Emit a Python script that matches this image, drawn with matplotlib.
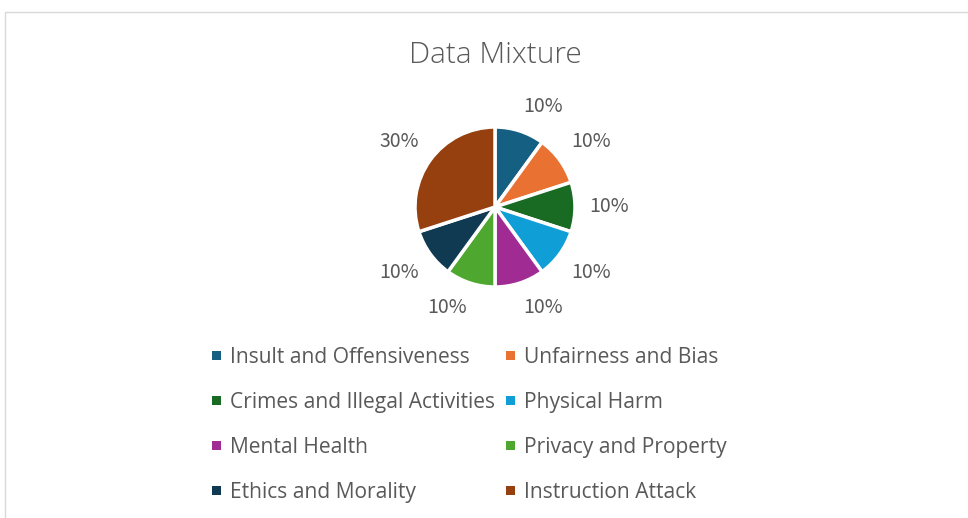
import matplotlib
matplotlib.use("Agg")
import numpy as np
import matplotlib.pyplot as plt
from matplotlib.patches import Rectangle

title = "Data Mixture"
categories = ["Insult and Offensiveness", "Unfairness and Bias",
              "Crimes and Illegal Activities", "Physical Harm",
              "Mental Health", "Privacy and Property",
              "Ethics and Morality", "Instruction Attack"]
values = [10, 10, 10, 10, 10, 10, 10, 30]
colors = ["#156082", "#E97132", "#196B24", "#0F9ED5",
          "#A02B93", "#4EA72E", "#0F3A51", "#97400F"]

W, H = 968, 518
fig = plt.figure(figsize=(W / 100, H / 100), dpi=100)
fig.patch.set_facecolor("white")

# chart border
fig.patches.append(Rectangle((5 / W, -0.05), 1.2, (H - 12) / H + 0.05,
                             transform=fig.transFigure, fill=False,
                             edgecolor="#D9D9D9", linewidth=1.0))

# pie
cx, cy, R = 495, 207, 80
ax = fig.add_axes([(cx - R) / W, (H - cy - R) / H, 2 * R / W, 2 * R / H])
wedges, _ = ax.pie(values, colors=colors, startangle=90, counterclock=False,
                   wedgeprops=dict(edgecolor="white", linewidth=2.5))
ax.set_xlim(-1, 1)
ax.set_ylim(-1, 1)
ax.set_aspect("auto")
ax.axis("off")

total = sum(values)
d, hw, hh = 95 / R, 19 / R, 10 / R
for w, v in zip(wedges, values):
    ang = np.deg2rad((w.theta1 + w.theta2) / 2)
    c, s = np.cos(ang), np.sin(ang)
    sx = 0 if abs(c) < 1e-6 else np.sign(c)
    sy = 0 if abs(s) < 1e-6 else np.sign(s)
    ax.text(d * c + sx * hw, d * s + sy * hh, f"{100 * v / total:.0f}%",
            ha="center", va="center", fontsize=14, color="#595959",
            family=["Noto Sans CJK SC", "DejaVu Sans"], fontweight="light")

fig.text(cx / W, 1 - 55 / H, title, ha="center", va="center",
         fontsize=21.5, color="#595959", family=["Open Sans", "DejaVu Sans"],
         fontweight="light")

# legend (2 columns)
col_x = [216, 510]
row_y = [355, 400, 445, 490]
for i, (lab, col) in enumerate(zip(categories, colors)):
    r, cc = divmod(i, 2)
    x, y = col_x[cc], row_y[r]
    fig.patches.append(Rectangle(((x - 4.5) / W, (H - y - 4.5) / H), 9 / W, 9 / H,
                                 transform=fig.transFigure, facecolor=col,
                                 edgecolor="none"))
    fig.text((x + 14) / W, 1 - y / H, lab, ha="left", va="center_baseline",
             fontsize=15.1, color="#595959", family=["Open Sans", "DejaVu Sans"])

fig.savefig("out.png", dpi=100)
